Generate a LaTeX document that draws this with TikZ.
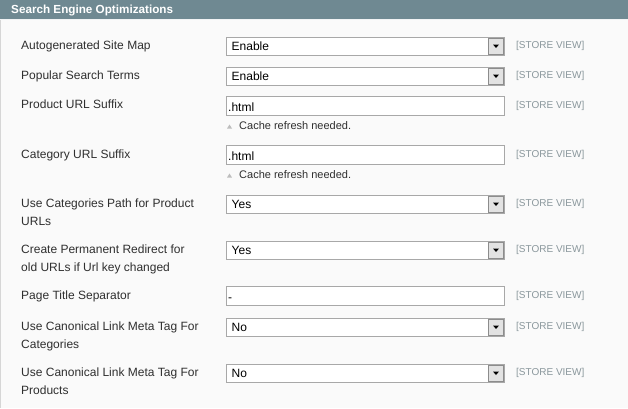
\documentclass[tikz,border=0pt]{standalone}
\usepackage{fontspec}
\setmainfont{Liberation Sans}
\definecolor{headbg}{HTML}{6F8992}
\definecolor{bodybg}{HTML}{FAFAFA}
\definecolor{bodyline}{HTML}{D6D6D6}
\definecolor{labeltext}{HTML}{2F2F2F}
\definecolor{scopetext}{HTML}{8A979C}
\definecolor{fieldline}{HTML}{A8A8A8}
\definecolor{btnfill}{HTML}{E2E2E2}
\definecolor{btnline}{HTML}{8C8C8C}
\definecolor{notetri}{HTML}{BDBDBD}

\begin{document}
\begin{tikzpicture}[x=1pt,y=-1pt,
    lbl/.style={anchor=base west,inner sep=0pt,text=labeltext,font=\fontsize{12}{14}\selectfont},
    val/.style={anchor=base west,inner sep=0pt,text=black,font=\fontsize{12}{14}\selectfont},
    scopelbl/.style={anchor=base west,inner sep=0pt,text=scopetext,font=\fontsize{10}{12}\selectfont},
    notelbl/.style={anchor=base west,inner sep=0pt,text=labeltext,font=\fontsize{11}{13}\selectfont},
    field/.style={draw=fieldline,fill=white,line width=1pt}]
    \useasboundingbox (0,0) rectangle (628,408);
    \fill[bodybg] (0,0) rectangle (628,408);
    \draw[bodyline] (0.5,19) -- (0.5,408);
    \fill[headbg] (0,0) rectangle (628,19);
    \draw[white!90!headbg] (0,19.5) -- (628,19.5);
    \node[anchor=base west,inner sep=0pt,text=white,font=\bfseries\fontsize{11.7}{14}\selectfont] (head) at (11,13) {Search Engine Optimizations};
    \foreach \n/\t/\v in {1/37/Enable,2/67/Enable,5/195/Yes,6/241/Yes,8/318/No,9/364/No} {
      \draw[field] (226.5,\t+0.5) rectangle (504.5,\t+18.5);
      \draw[fill=btnfill,draw=btnline] (488.5,\t+1.5) rectangle (503.5,\t+17.5);
      \fill[black] (493,\t+7.5) -- (499,\t+7.5) -- (496,\t+11) -- cycle;
      \node[val] (val\n) at (231.5,\t+13.7) {\v};
      \node[scopelbl] (scope\n) at (516,\t+11.7) {[STORE VIEW]};
    }
    \foreach \n/\t/\v in {3/96/.html,4/145/.html,7/286/-} {
      \draw[field] (226.5,\t+0.5) rectangle (504.5,\t+19.5);
      \node[val] (val\n) at (228,\t+15) {\v};
      \node[scopelbl] (scope\n) at (516,\t+12) {[STORE VIEW]};
    }
    \foreach \n/\t in {3/96,4/145} {
      \fill[notetri] (227,\t+32.5) -- (232,\t+32.5) -- (229.5,\t+28.5) -- cycle;
      \node[notelbl] (note\n) at (239,\t+33.5) {Cache refresh needed.};
    }
    \node[lbl] (lbl1) at (21,49) {Autogenerated Site Map};
    \node[lbl] (lbl2) at (21,79) {Popular Search Terms};
    \node[lbl] (lbl3) at (21,108) {Product URL Suffix};
    \node[lbl] (lbl4) at (21,158) {Category URL Suffix};
    \node[lbl] (lbl5) at (21,207) {Use Categories Path for Product};
    \node[lbl] (lbl5b) at (21,225) {URLs};
    \node[lbl] (lbl6) at (21,253) {Create Permanent Redirect for};
    \node[lbl] (lbl6b) at (21,271) {old URLs if Url key changed};
    \node[lbl] (lbl7) at (21,299) {Page Title Separator};
    \node[lbl] (lbl8) at (21,330) {Use Canonical Link Meta Tag For};
    \node[lbl] (lbl8b) at (21,348) {Categories};
    \node[lbl] (lbl9) at (21,376) {Use Canonical Link Meta Tag For};
    \node[lbl] (lbl9b) at (21,394) {Products};
  \end{tikzpicture}
\end{document}
